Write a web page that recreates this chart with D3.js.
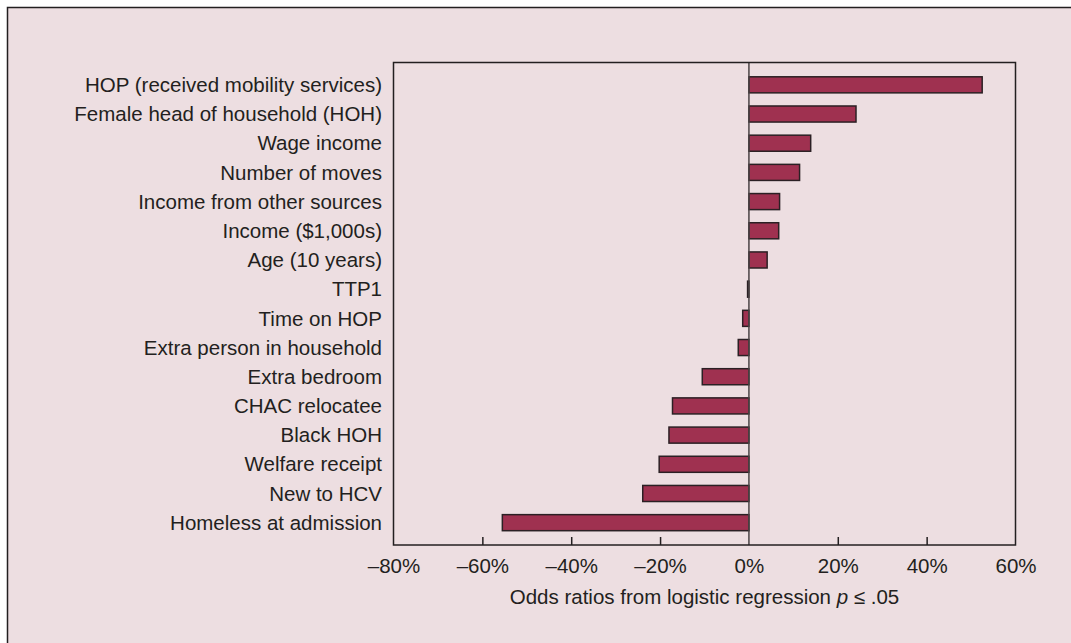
<!DOCTYPE html>
<html>
<head>
<meta charset="utf-8">
<script src="https://cdn.jsdelivr.net/npm/d3@7"></script>
<style>
body { margin:0; background:#fff; }
text { font-family: "Liberation Sans", Arial, sans-serif; fill:#231f20; }
</style>
</head>
<body>
<script>
// categories, top to bottom
var categories = [
    'HOP (received mobility services)',
    'Female head of household (HOH)',
    'Wage income',
    'Number of moves',
    'Income from other sources',
    'Income ($1,000s)',
    'Age (10 years)',
    'TTP1',
    'Time on HOP',
    'Extra person in household',
    'Extra bedroom',
    'CHAC relocatee',
    'Black HOH',
    'Welfare receipt',
    'New to HCV',
    'Homeless at admission'
];
// odds ratio effect in percent
var values = [52.5, 24.1, 13.9, 11.4, 6.9, 6.7, 4.1, -0.3, -1.4, -2.4, -10.5, -17.2, -18.0, -20.2, -23.9, -55.5];
var tickValues = [-80, -60, -40, -20, 0, 20, 40, 60];

var W = 1071, H = 643;
// plot box
var margin = {
    left: 393.5,
    right: W - 1015.5,
    top: 62.5,
    bottom: H - 545
};

var svg = d3.select('body').append('svg')
    .attr('width', W)
    .attr('height', H)

// outer panel
svg.append('rect')
    .attr('x', 7.5)
    .attr('y', 7.5)
    .attr('width', W + 20)
    .attr('height', H + 20)
    .attr('fill', '#eddee1')
    .attr('stroke', '#231f20')
    .attr('stroke-width', 1.5)

var x = d3.scaleLinear()
    .domain([-80, 60])
    .range([margin.left, W - margin.right])

var y = d3.scaleBand()
    .domain(categories)
    .range([margin.top, H - margin.bottom])
    .paddingInner(0.45)
    .paddingOuter(0.49)

// bars
svg.append('g')
    .selectAll('rect')
    .data(values)
    .enter()
    .append('rect')
    .attr('x', function(d){ return x(Math.min(0, d)) })
    .attr('y', function(d, i){ return y(categories[i]) })
    .attr('width', function(d){ return Math.abs(x(d) - x(0)) })
    .attr('height', y.bandwidth())
    .attr('fill', '#9f3150')
    .attr('stroke', '#2b2024')
    .attr('stroke-width', 1.5)

// zero line
svg.append('line')
    .attr('x1', x(0))
    .attr('x2', x(0))
    .attr('y1', margin.top)
    .attr('y2', H - margin.bottom)
    .attr('stroke', '#4a4345')
    .attr('stroke-width', 1.5)

// frame
svg.append('rect')
    .attr('x', margin.left)
    .attr('y', margin.top)
    .attr('width', W - margin.right - margin.left)
    .attr('height', H - margin.bottom - margin.top)
    .attr('fill', 'none')
    .attr('stroke', '#231f20')
    .attr('stroke-width', 1.5)

// x axis, ticks pointing into the plot
var xAxis = d3.axisBottom(x)
    .tickValues(tickValues)
    .tickSize(0)
    .tickPadding(13)
    .tickFormat(function(d){ return (d < 0 ? '\u2013' : '') + Math.abs(d) + '%' })

var gx = svg.append('g')
    .attr('transform', 'translate(0,' + (H - margin.bottom) + ')')
    .call(xAxis)
gx.select('.domain').remove()
gx.selectAll('.tick text')
    .attr('font-size', 20.5)
    .attr('font-family', '"Liberation Sans", Arial, sans-serif')
    .attr('fill', '#231f20')
gx.selectAll('.tick')
    .filter(function(d){ return d !== -80 && d !== 60 && d !== 0 })
    .append('line')
    .attr('y1', 0)
    .attr('y2', -8)
    .attr('stroke', '#231f20')
    .attr('stroke-width', 1.5)

// category labels
svg.append('g')
    .selectAll('text')
    .data(categories)
    .enter()
    .append('text')
    .attr('x', 382)
    .attr('y', function(d){ return y(d) + y.bandwidth() / 2 })
    .attr('dy', '0.35em')
    .attr('text-anchor', 'end')
    .attr('font-size', 20.5)
    .text(function(d){ return d })

// axis title
var title = svg.append('text')
    .attr('x', (x(-80) + x(60)) / 2)
    .attr('y', 604)
    .attr('text-anchor', 'middle')
    .attr('font-size', 20.5)
title.append('tspan').text('Odds ratios from logistic regression ')
title.append('tspan').attr('font-style', 'italic').text('p')
title.append('tspan').text(' \u2264 .05')
</script>
</body>
</html>
